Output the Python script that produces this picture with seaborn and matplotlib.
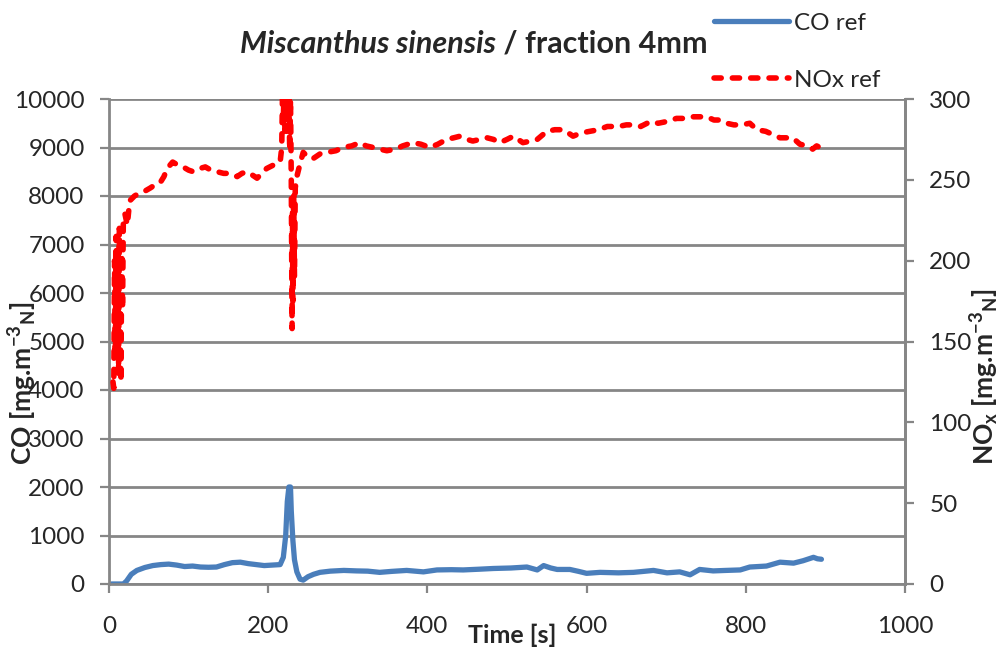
import matplotlib
matplotlib.use("Agg")
import matplotlib.pyplot as plt
import seaborn as sns
import pandas as pd

# ---------------- data ----------------
co_time = [3, 10, 18, 22, 28, 35, 45, 55, 65, 75, 85, 95, 105, 115, 125, 135, 145, 155,
           165, 175, 185, 195, 205, 215, 219, 222, 224, 226, 228, 229, 231, 233, 236, 240,
           244, 250, 257, 265, 278, 295, 311, 325, 340, 355, 374, 395, 412, 430, 445, 465,
           483, 505, 525, 538, 546, 555, 563, 579, 590, 600, 617, 640, 659, 684, 701, 717,
           730, 742, 759, 775, 793, 805, 826, 843, 860, 872, 885, 890, 895]
co_values = [0, 0, 0, 60, 200, 280, 340, 380, 400, 410, 390, 360, 370, 350, 345, 350, 400, 440,
             450, 420, 400, 380, 390, 400, 550, 1000, 1700, 2000, 2000, 1500, 900, 500, 250, 100,
             80, 150, 200, 240, 265, 280, 270, 265, 240, 260, 280, 250, 290, 295, 290, 305,
             320, 330, 350, 290, 380, 330, 300, 300, 260, 220, 240, 230, 240, 280, 230, 250,
             190, 300, 270, 280, 290, 350, 370, 450, 430, 480, 550, 520, 510]

nox_time = [5, 6, 7, 8, 9, 10, 11, 12, 13, 14, 15, 16, 17, 18, 20, 23, 26, 32, 39, 45, 52,
            58, 64, 69, 73, 80, 87, 93, 100, 106, 114, 121, 128, 136, 144, 152, 161, 167, 173,
            180, 186, 192, 198, 206, 215, 217, 218, 219, 220, 221, 222, 223, 224, 225, 226,
            227, 228, 229, 229.5, 230, 230.5, 231, 232, 233, 234, 236, 240, 244, 250, 256, 265,
            274, 285, 294, 305, 315, 323, 332, 340, 349, 360, 369, 382, 392, 403, 413, 424,
            433, 441, 450, 457, 466, 475, 483, 491, 500, 508, 520, 530, 538, 550, 560, 571,
            583, 593, 604, 615, 626, 640, 650, 658, 668, 680, 690, 700, 713, 722, 730, 741,
            751, 760, 768, 776, 785, 795, 805, 814, 825, 834, 843, 852, 859, 868, 878, 884,
            889, 893]
nox_values = [125, 121, 200, 140, 215, 150, 205, 130, 220, 160, 125, 210, 170, 225, 229, 222,
              237, 240, 242, 243, 245, 247, 248, 252, 257, 261, 259, 258, 256, 255, 257, 258,
              256, 255, 254, 254, 252, 254, 255, 253, 251, 254, 257, 259, 261, 270, 305, 285,
              310, 280, 305, 290, 310, 280, 305, 268, 300, 250, 200, 158, 230, 175, 240, 190,
              245, 252, 260, 267, 264, 263, 266, 267, 268, 270, 271, 273, 271, 270, 269, 268,
              269, 271, 273, 272, 270, 272, 275, 276, 277, 275, 274, 275, 276, 275, 273, 275,
              277, 273, 274, 275, 280, 281, 281, 277, 279, 280, 281, 283, 283, 284, 284, 283,
              286, 285, 286, 288, 288, 289, 289, 289, 287, 287, 285, 284, 284, 285, 281, 280,
              278, 276, 276, 276, 272, 271, 269, 271, 270]

x_ticks = [0, 200, 400, 600, 800, 1000]
co_ticks = list(range(0, 10001, 1000))
nox_ticks = list(range(0, 301, 50))

title_italic = "Miscanthus sinensis"
title_rest = " / fraction 4mm"
x_label = "Time [s]"
co_label = r"CO [mg.m$^{-3}$$_{N}$]"
nox_label = r"NO$_{x}$ [mg.m$^{-3}$$_{N}$]"
co_name = "CO ref"
nox_name = "NOx ref"

co_df = pd.DataFrame({"t": co_time, "v": co_values})
nox_df = pd.DataFrame({"t": nox_time, "v": nox_values})

# ---------------- style ----------------
sns.set_theme(style="white")
FONT = "Lato"
plt.rcParams["font.family"] = [FONT, "DejaVu Sans"]
plt.rcParams["mathtext.fontset"] = "custom"
plt.rcParams["mathtext.rm"] = FONT + ":bold"
plt.rcParams["mathtext.it"] = FONT + ":bold"
plt.rcParams["mathtext.bf"] = FONT + ":bold"
plt.rcParams["mathtext.default"] = "rm"

GRID = "#868686"
BLUE = "#4A7EBB"
RED = "#FF0000"
TICK_FS = 17.5

fig = plt.figure(figsize=(10.03, 6.58), dpi=100)
ax = fig.add_axes([109 / 1003, 1 - 584 / 658, (905 - 109) / 1003, (584 - 99) / 658])
ax2 = ax.twinx()

sns.lineplot(data=co_df, x="t", y="v", ax=ax, color=BLUE, lw=3.8, estimator=None,
             label=co_name, legend=False)
sns.lineplot(data=nox_df, x="t", y="v", ax=ax2, color=RED, lw=4.0, estimator=None,
             label=nox_name, legend=False)
nl = ax2.lines[0]
nl.set_dashes((1.3, 2.0))
nl.set_dash_capstyle("round")
nl.set_solid_capstyle("round")
ax.lines[0].set_solid_capstyle("round")

ax.set_xlim(0, 1000)
ax.set_ylim(0, 10000)
ax2.set_ylim(0, 300)
ax.set_xticks(x_ticks)
ax.set_yticks(co_ticks)
ax2.set_yticks(nox_ticks)

ax.yaxis.grid(True, color=GRID, lw=2.0)
ax.xaxis.grid(False)
ax2.grid(False)
ax.set_axisbelow(True)

for a in (ax, ax2):
    a.spines["top"].set_visible(False)
    for side in ("left", "right", "bottom"):
        a.spines[side].set_color(GRID)
        a.spines[side].set_linewidth(2.0)
ax2.spines["left"].set_visible(False)
ax2.spines["bottom"].set_visible(False)

ax.tick_params(axis="x", direction="out", length=6.5, width=1.6, color=GRID,
               labelsize=TICK_FS, pad=16.5, bottom=True)
ax.tick_params(axis="y", direction="out", length=6.5, width=1.6, color=GRID,
               labelsize=TICK_FS, pad=11, left=True)
ax2.tick_params(axis="y", direction="out", length=6.5, width=1.6, color=GRID,
                labelsize=TICK_FS, pad=11, right=True)

ax.set_xlabel(x_label, fontsize=18, fontweight="bold")
ax.xaxis.set_label_coords(0.506, -0.082)
ax.set_ylabel(co_label, fontsize=19, fontweight="bold")
ax.yaxis.set_label_coords(-0.088, 0.414)
ax2.set_ylabel(nox_label, fontsize=19, fontweight="bold", rotation=90)
ax2.yaxis.set_label_coords(1.079, 0.427)

# legend outside the plot area, top right
handles = [ax.lines[0], nl]
fig.legend(handles, [co_name, nox_name], loc="upper left",
           bbox_to_anchor=(704 / 1003, 1 - 3 / 658), frameon=False,
           fontsize=TICK_FS, handlelength=3.1, handletextpad=0.2, labelspacing=1.48,
           borderaxespad=0)

# title: italic part + plain part, centred at x ~ 474 px
t1 = fig.text(0, 1 - 44 / 658, title_italic, fontsize=22, fontweight="bold",
              fontstyle="italic", ha="left", va="center")
t2 = fig.text(0, 1 - 44 / 658, title_rest, fontsize=22, fontweight="bold",
              ha="left", va="center")
fig.canvas.draw()
r = fig.canvas.get_renderer()
w1 = t1.get_window_extent(r).width
w2 = t2.get_window_extent(r).width
start = 474 - (w1 + w2) / 2
t1.set_x(start / 1003)
t2.set_x((start + w1) / 1003)

fig.savefig("out.png", dpi=100)
